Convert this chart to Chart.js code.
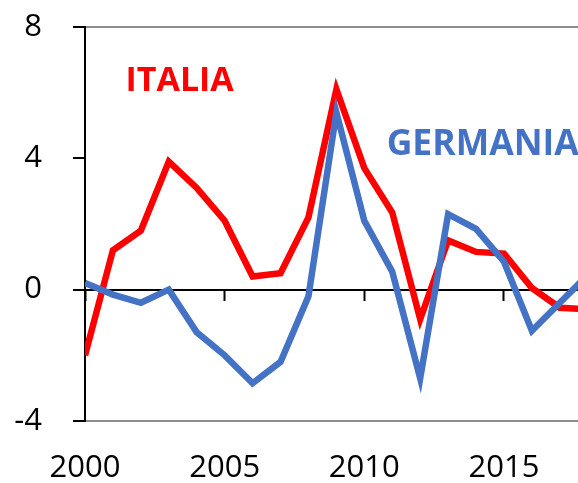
<!DOCTYPE html>
<html>
<head>
<meta charset="utf-8">
<script src="https://cdn.jsdelivr.net/npm/chart.js@4.4.0/dist/chart.umd.min.js"></script>
<style>
  html, body { margin: 0; padding: 0; background: #fff; }
  #wrap { width: 578px; height: 483px; position: relative; }
</style>
</head>
<body>
<div id="wrap"><canvas id="chart"></canvas></div>
<script>
// dati
const years = [2000, 2001, 2002, 2003, 2004, 2005, 2006, 2007, 2008, 2009,
               2010, 2011, 2012, 2013, 2014, 2015, 2016, 2017, 2018];
const italia = [-2.0, 1.2, 1.8, 3.9, 3.1, 2.1, 0.4, 0.5, 2.2, 6.1,
                3.7, 2.35, -0.9, 1.5, 1.15, 1.1, 0.05, -0.55, -0.6];
const germania = [0.2, -0.15, -0.4, 0.0, -1.3, -2.0, -2.85, -2.2, -0.2, 5.4,
                  2.1, 0.55, -2.7, 2.3, 1.85, 0.85, -1.25, -0.4, 0.45];
const xTicks = [2000, 2005, 2010, 2015];
const yTicks = [-4, 0, 4, 8];
const seriesLabels = [
  { text: 'ITALIA', color: '#FF0000', x: 2001.45, y: 6.35, size: 34 },
  { text: 'GERMANIA', color: '#4472C4', x: 2010.8, y: 4.4, size: 35.5 }
];

const X_MIN = 2000, X_MAX = 2017.65;
const tickFont = { family: "'Open Sans', sans-serif", size: 31 };

const toPoints = (vals) => vals.map((v, i) => ({ x: years[i], y: v }));

const labelPlugin = {
  id: 'seriesLabels',
  afterDatasetsDraw(chart) {
    const { ctx, scales } = chart;
    ctx.save();
    ctx.textBaseline = 'middle';
    ctx.textAlign = 'left';
    seriesLabels.forEach(l => {
      ctx.font = `bold ${l.size}px 'Open Sans', sans-serif`;
      ctx.fillStyle = l.color;
      ctx.fillText(l.text, scales.x.getPixelForValue(l.x), scales.y.getPixelForValue(l.y));
    });
    ctx.restore();
  }
};

new Chart(document.getElementById('chart'), {
  type: 'line',
  data: {
    datasets: [
      {
        label: 'Germania',
        data: toPoints(germania),
        borderColor: '#4472C4',
        borderWidth: 6.5,
        pointRadius: 0,
        tension: 0
      },
      {
        label: 'Italia',
        data: toPoints(italia),
        borderColor: '#FF0000',
        borderWidth: 6.5,
        pointRadius: 0,
        tension: 0
      }
    ]
  },
  options: {
    responsive: true,
    maintainAspectRatio: false,
    animation: false,
    layout: { padding: { top: 27, right: 0, bottom: 0, left: 0 } },
    plugins: {
      legend: { display: false },
      tooltip: { enabled: false }
    },
    scales: {
      x: {
        type: 'linear',
        min: X_MIN,
        max: X_MAX,
        position: { y: 0 },
        afterBuildTicks: (scale) => { scale.ticks = xTicks.map(v => ({ value: v })); },
        grid: { drawOnChartArea: false, drawTicks: true, tickLength: 10, tickColor: '#000', tickWidth: 2 },
        border: { color: '#000', width: 2 },
        ticks: { display: false }
      },
      x2: {
        type: 'linear',
        min: X_MIN,
        max: X_MAX,
        position: 'bottom',
        afterBuildTicks: (scale) => { scale.ticks = xTicks.map(v => ({ value: v })); },
        afterFit: (scale) => { scale.height = 62; },
        grid: { display: false, drawTicks: false },
        border: { display: false },
        ticks: {
          color: '#000',
          font: tickFont,
          padding: 29,
          maxRotation: 0,
          autoSkip: false,
          callback: (v) => String(v)
        }
      },
      y: {
        min: -4,
        max: 8,
        afterBuildTicks: (scale) => { scale.ticks = yTicks.map(v => ({ value: v })); },
        afterFit: (scale) => {
          scale.width = 85;
          scale.paddingTop = 0;
          scale.paddingBottom = 0;
        },
        grid: {
          color: (c) => (c.tick && (c.tick.value === 8 || c.tick.value === -4)) ? '#8c8c8c' : 'rgba(0,0,0,0)',
          lineWidth: 2,
          tickColor: '#000',
          tickLength: 12,
          tickWidth: 2
        },
        border: { color: '#000', width: 2 },
        ticks: {
          color: '#000',
          font: tickFont,
          padding: 31,
          callback: (v) => String(v)
        }
      }
    }
  },
  plugins: [labelPlugin]
});
</script>
</body>
</html>
